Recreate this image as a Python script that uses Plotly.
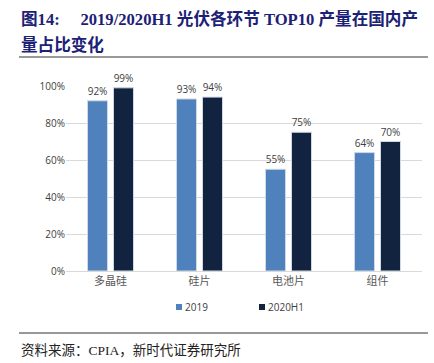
import plotly.graph_objects as go

categories = ["多晶硅", "硅片", "电池片", "组件"]
values_2019 = [0.92, 0.93, 0.55, 0.64]
values_2020h1 = [0.99, 0.94, 0.75, 0.70]
series_names = ["2019", "2020H1"]
colors = ["#4F81BD", "#12233F"]

W, H = 434, 363
ML, MR, MT, MB = 66, 12, 86, 92
ph = H - MT - MB
pw = W - ML - MR
def py(pix):
    return (H - MB - pix) / ph
def px(pix):
    return (pix - ML) / pw

fig = go.Figure()
for name, vals, col in zip(series_names, [values_2019, values_2020h1], colors):
    fig.add_trace(go.Bar(
        x=categories, y=vals, name=name,
        marker=dict(color=col, line=dict(color="#D0D8E4", width=1)),
        text=[f"{v*100:.0f}%" for v in vals], textposition="outside",
        textfont=dict(size=10, color="#404040", family="Open Sans, Noto Sans CJK SC"),
        cliponaxis=False, showlegend=False,
    ))

fig.update_layout(
    width=W, height=H,
    margin=dict(l=ML, r=MR, t=MT, b=MB),
    paper_bgcolor="white", plot_bgcolor="white",
    barmode="group", bargap=0.416, bargroupgap=0.23,
    showlegend=False,
    yaxis=dict(range=[0, 1.0], tickvals=[0, 0.2, 0.4, 0.6, 0.8, 1.0], tickformat=".0%",
               showgrid=True, gridcolor="#D9D9D9", gridwidth=1, zeroline=False,
               tickfont=dict(size=10, color="#404040", family="Open Sans"),
               ticks="", ticklen=0, showline=False),
    xaxis=dict(showline=True, linecolor="#D9D9D9", linewidth=1,
               tickfont=dict(size=11, color="#595959", family="Noto Sans CJK SC"), ticks=""),
    font=dict(family="Noto Sans CJK SC"),
)

title_font = dict(family="Liberation Serif, Noto Sans CJK SC", size=16.6, color="#1C2175")
fig.add_annotation(text="<b>图14:     2019/2020H1 光伏各环节 TOP10 产量在国内产</b>",
                   xref="paper", yref="paper", x=px(19), y=py(19), xanchor="left", yanchor="middle",
                   showarrow=False, font=title_font)
fig.add_annotation(text="<b>量占比变化</b>", xref="paper", yref="paper",
                   x=px(19), y=py(45), xanchor="left", yanchor="middle", showarrow=False, font=title_font)
fig.add_annotation(text="资料来源：CPIA，新时代证券研究所", xref="paper", yref="paper",
                   x=px(19), y=py(350), xanchor="left", yanchor="middle", showarrow=False,
                   font=dict(family="Liberation Serif, Noto Sans CJK SC", size=13.5, color="#222222"))

# legend
legend_x = [176, 259]
for name, col, lx in zip(series_names, colors, legend_x):
    fig.add_shape(type="rect", xref="paper", yref="paper",
                  x0=px(lx), x1=px(lx + 6), y0=py(310), y1=py(304),
                  fillcolor=col, line=dict(width=0))
    fig.add_annotation(text=name, xref="paper", yref="paper",
                       x=px(lx + 7), y=py(307), xanchor="left", yanchor="middle", showarrow=False,
                       font=dict(family="Open Sans", size=10, color="#404040"))

fig.add_shape(type="line", xref="paper", yref="paper", x0=px(19), x1=px(428),
              y0=py(57), y1=py(57), line=dict(color="#999999", width=2))
fig.add_shape(type="line", xref="paper", yref="paper", x0=px(19), x1=px(428),
              y0=py(333), y1=py(333), line=dict(color="#333333", width=1))

fig.write_html("out.html", post_script="document.body.style.margin='0';",
               config={"displayModeBar": False})
